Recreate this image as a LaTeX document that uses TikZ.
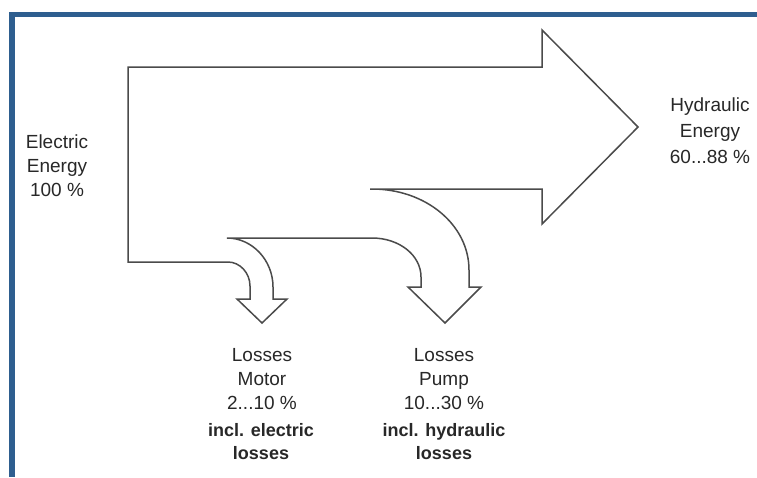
\documentclass[tikz,border=0pt]{standalone}
\usepackage{fontspec}
\setmainfont{Liberation Sans}
\definecolor{frameblue}{RGB}{46,94,143}
\definecolor{flowline}{RGB}{75,75,75}
\definecolor{txt}{RGB}{40,40,40}
\tikzset{
  flow/.style={draw=flowline, line width=1.5pt, line join=miter, fill=white},
  lbl/.style={align=center, text=txt, inner sep=0pt, font=\fontsize{19}{24}\selectfont},
  lblb/.style={align=center, text=txt, inner sep=0pt, font=\bfseries\fontsize{18}{23}\selectfont},
}
\begin{document}
\begin{tikzpicture}[x=1pt,y=-1pt]
\useasboundingbox (0,0) rectangle (757,477);
\fill[white] (0,0) rectangle (757,477);
% blue frame (top and left)
\fill[frameblue] (9,12) rectangle (757,17);
\fill[frameblue] (9,12) rectangle (15,477);
% Sankey flow shape
\draw[flow] (370,189) -- (542,189) -- (542,224) -- (638,127) -- (542,30) -- (542,67)
  -- (128,67) -- (128,262) -- (228,262)
  .. controls (240,262) and (250,273) .. (250,286) -- (250,299) -- (237,299)
  -- (262,323) -- (287,299) -- (273,299) -- (273,287)
  .. controls (273,260) and (252,238) .. (227,238) -- (372,238)
  .. controls (399,238) and (421,255) .. (421,277) -- (421,287) -- (408,287)
  -- (445,323) -- (481,287) -- (469,287) -- (469,270)
  .. controls (469,225) and (426,189) .. (372,189) -- cycle;
% labels
\node[lbl] (elec) at (57,166) {Electric\\Energy\\100 \%};
\node[lbl, font=\fontsize{19}{26}\selectfont] (hyd) at (710,131) {Hydraulic\\Energy\\60...88 \%};
\node[lbl] (motor) at (262,379) {Losses\\Motor\\2...10 \%};
\node[lblb] (motorx) at (261,442) {incl. electric\\losses};
\node[lbl] (pump) at (444,379) {Losses\\Pump\\10...30 \%};
\node[lblb] (pumpx) at (444,442) {incl. hydraulic\\losses};
\end{tikzpicture}
\end{document}
